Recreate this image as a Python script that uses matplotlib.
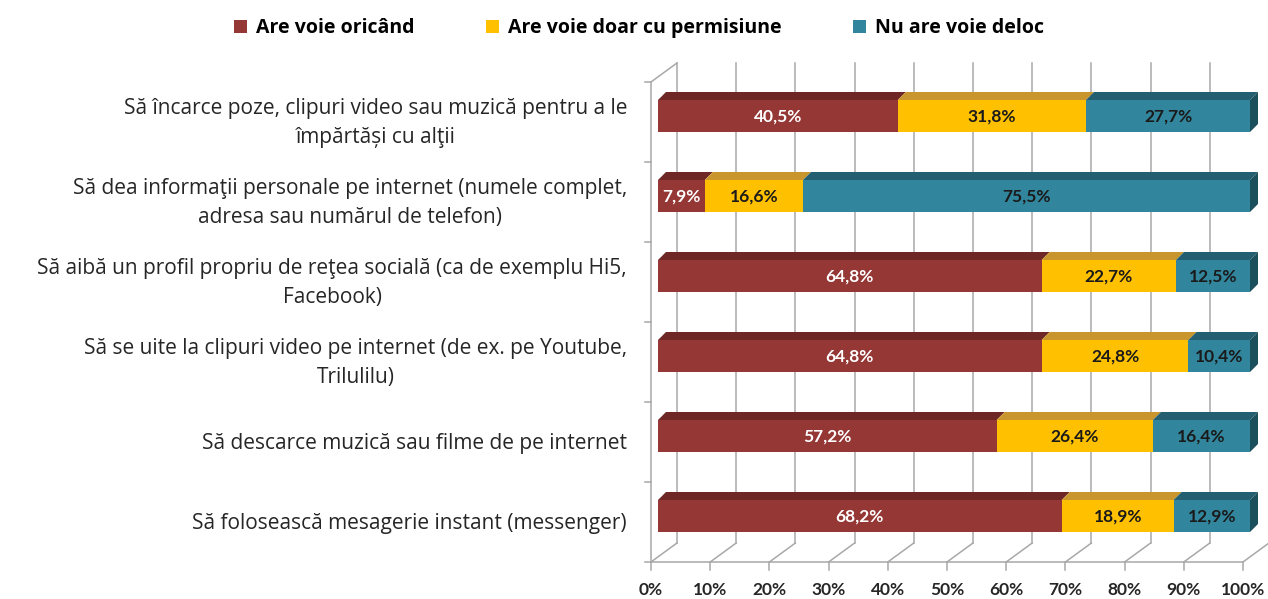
import matplotlib
matplotlib.use("Agg")
import matplotlib.pyplot as plt
from matplotlib.patches import Rectangle, Polygon, Patch

plt.rcParams['font.family'] = ['Lato', 'DejaVu Sans']

categories = [
    "Să încarce poze, clipuri video sau muzică pentru a le\nîmpărtăși cu alţii",
    "Să dea informaţii personale pe internet (numele complet,\nadresa sau numărul de telefon)",
    "Să aibă un profil propriu de reţea socială (ca de exemplu Hi5,\nFacebook)",
    "Să se uite la clipuri video pe internet (de ex. pe Youtube,\nTrilulilu)",
    "Să descarce muzică sau filme de pe internet",
    "Să folosească mesagerie instant (messenger)",
]
series_names = ["Are voie oricând", "Are voie doar cu permisiune", "Nu are voie deloc"]
oricand = [40.5, 7.9, 64.8, 64.8, 57.2, 68.2]
permisiune = [31.8, 16.6, 22.7, 24.8, 26.4, 18.9]
deloc = [27.7, 75.5, 12.5, 10.4, 16.4, 12.9]
ticks = list(range(0, 101, 10))

front_col = ['#953735', '#FFC000', '#31859C']
top_col = ['#6E2725', '#C8962C', '#235F70']
side_col = '#1C4F5C'
txt_col = ['white', '#1a1a1a', '#1a1a1a']
grid_col = '#a8a8a8'

W, H = 1268, 599
fig = plt.figure(figsize=(W / 100, H / 100), dpi=100)
ax = fig.add_axes([0, 0, 1, 1])

# pixel scale of the fake 3d box
SX = 5.92   # px per percent
SY = 80.0   # px per category
x0px, y0px = 651, 116
ax.set_xlim(-x0px / SX, (W - x0px) / SX)
ax.set_ylim((H - y0px) / SY, -y0px / SY)
ax.axis('off')

# depth offsets (px -> data)
wall_dx, wall_dy = 26 / SX, -19 / SY
bar_fx = 7 / SX
bar_dx, bar_dy = 8 / SX, -8 / SY
bh = 32 / SY

n = len(categories)
top_front = -0.5 + 6 / SY
floor_front = top_front + n

# back wall and floor grid
for t in ticks:
    ax.plot([t, t + wall_dx], [floor_front, floor_front + wall_dy], color=grid_col, lw=1.1, zorder=1)
    ax.plot([t + wall_dx, t + wall_dx], [floor_front + wall_dy, top_front + wall_dy],
            color=grid_col, lw=1.1, zorder=1)
    ax.plot([t, t], [floor_front, floor_front + 8 / SY], color=grid_col, lw=1.1, zorder=1)
    ax.text(t, floor_front + 28 / SY, f"{t}%", ha='center', va='center',
            fontsize=12.5, fontweight='bold', color='#262626')
ax.plot([0, 100], [floor_front, floor_front], color=grid_col, lw=1.1, zorder=1)
ax.plot([0, 0], [floor_front, top_front], color=grid_col, lw=1.1, zorder=1)
ax.plot([0, wall_dx], [top_front, top_front + wall_dy], color=grid_col, lw=1.1, zorder=1)
for k in range(n + 1):
    ax.plot([-6 / SX, 0], [top_front + k, top_front + k], color=grid_col, lw=1.1, zorder=1)

# bars
for i in range(n):
    vals = [oricand[i], permisiune[i], deloc[i]]
    left = 0
    y_top = i - bh / 2
    for j, v in enumerate(vals):
        xl = left + bar_fx
        xr = left + v + bar_fx
        ax.add_patch(Rectangle((xl, y_top), v, bh, facecolor=front_col[j], edgecolor='none', zorder=3))
        ax.add_patch(Polygon([(xl, y_top), (xr, y_top), (xr + bar_dx, y_top + bar_dy),
                              (xl + bar_dx, y_top + bar_dy)],
                             facecolor=top_col[j], edgecolor='none', zorder=3))
        if j == len(vals) - 1:
            ax.add_patch(Polygon([(xr, y_top), (xr + bar_dx, y_top + bar_dy),
                                  (xr + bar_dx, y_top + bh + bar_dy), (xr, y_top + bh)],
                                 facecolor=side_col, edgecolor='none', zorder=3))
        ax.text(xl + v / 2, i + 1 / SY, f"{v:.1f}%".replace('.', ','), ha='center', va='center',
                fontsize=12.5, fontweight='bold', color=txt_col[j], zorder=4)
        left += v

# category labels
for i, c in enumerate(categories):
    ax.text(-24 / SX, i + 7 / SY, c, ha='right', va='center', ma='center',
            fontsize=15, color='#262626', linespacing=1.5, family='Open Sans')

handles = [Patch(facecolor=front_col[j], edgecolor='none') for j in range(3)]
fig.legend(handles, series_names, loc='center', bbox_to_anchor=(0.504, 0.953), ncol=3,
           frameon=False, handlelength=0.65, handleheight=0.65, handletextpad=0.45,
           columnspacing=3.7, prop={'weight': 'bold', 'size': 14, 'family': 'Open Sans'})

fig.savefig("out.png", dpi=100)
